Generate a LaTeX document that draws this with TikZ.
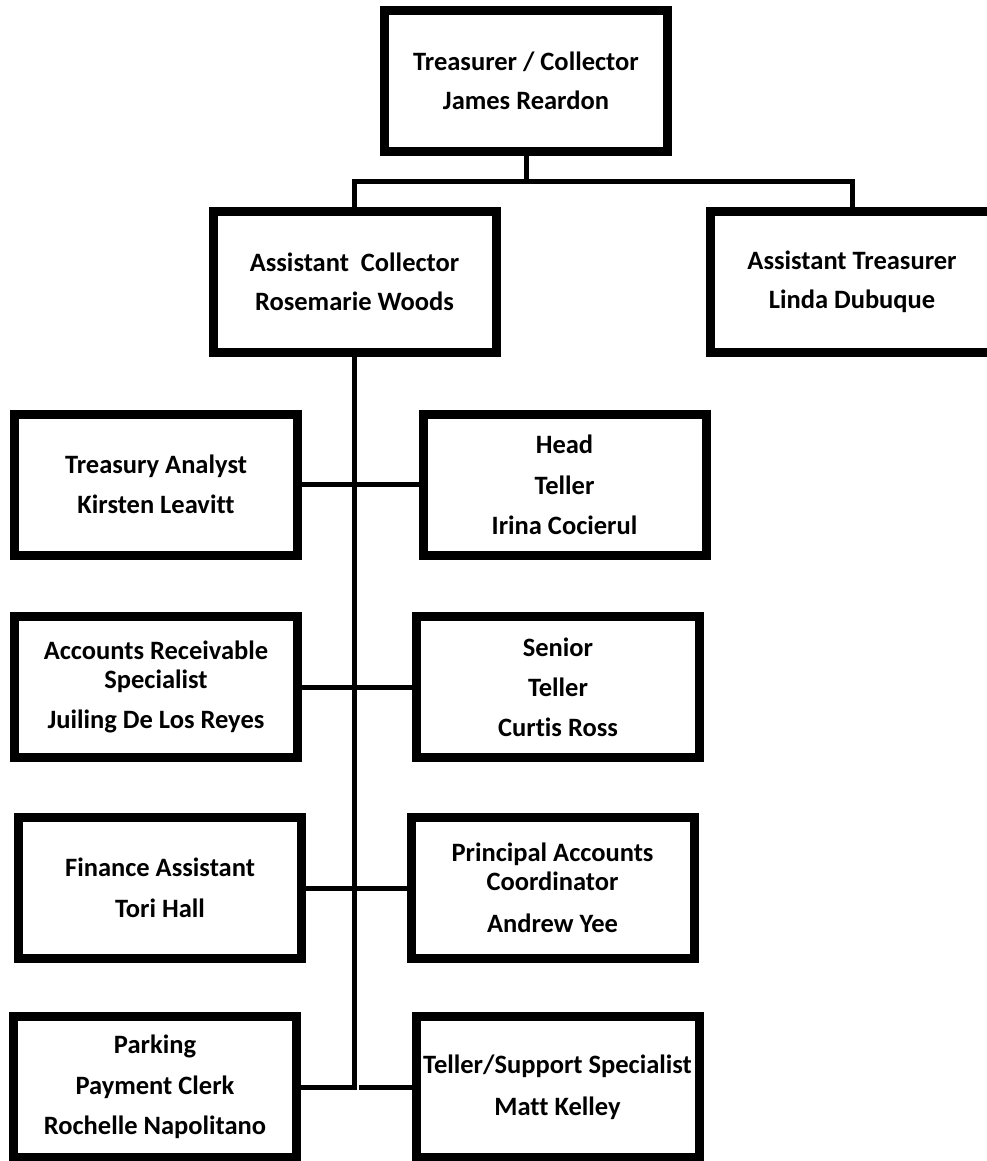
\documentclass[tikz,border=0pt]{standalone}
\usepackage{fontspec}
\setmainfont{Carlito}[Ligatures=NoCommon]
\begin{document}
\begin{tikzpicture}[x=1pt,y=-1pt]
    \clip (0,0) rectangle (987,1161);

    \begin{scope}[every node/.style={rectangle, draw, line width=9pt, minimum width=283pt, minimum height=141pt, inner sep=0pt, align=center, font=\bfseries\fontsize{26.5}{29}\selectfont}]
        \node (1) at (526,81) {Treasurer / Collector\\[10pt]James Reardon};
        \node (2) at (354.5,282) {Assistant\ \ Collector\\[10pt]Rosemarie Woods};
        \node (3) at (852,281.5) {Assistant Treasurer\\[10pt]Linda Dubuque};
        \node (4) at (156,484.5) {Treasury Analyst\\[11pt]Kirsten Leavitt};
        \node (5) at (564.5,484.5) {Head\\[12pt]Teller\\[11pt]Irina Cocierul};
        \node (6) at (156,687) {Accounts Receivable\\Specialist\\[11pt]Juiling De Los Reyes};
        \node (7) at (558,687) {Senior\\[11pt]Teller\\[11pt]Curtis Ross};
        \node (8) at (160,888) {Finance Assistant\\[12pt]Tori Hall};
        \node (9) at (552.5,888) {Principal Accounts\\Coordinator\\[13pt]Andrew Yee};
        \node (10) at (155,1087) {Parking\\[12pt]Payment Clerk\\[11pt]Rochelle Napolitano};
        \node (11) at (557.5,1087) {Teller/Support Specialist\\[13pt]Matt Kelley};
    \end{scope}

    \begin{scope}[line width=5pt, every edge/.style={draw}]
        \coordinate (bar) at (526,182);
        \coordinate (stub) at (359,1087);
        \draw (1.south) -- (bar);
        \draw (2.north) |- (bar) -| (3.north);
        \draw (2.south) |- (10.east);
        \path [-] (4) edge (5);
        \path [-] (6) edge (7);
        \path [-] (8) edge (9);
        \path [-] (stub) edge (11);
    \end{scope}
\end{tikzpicture}
\end{document}
